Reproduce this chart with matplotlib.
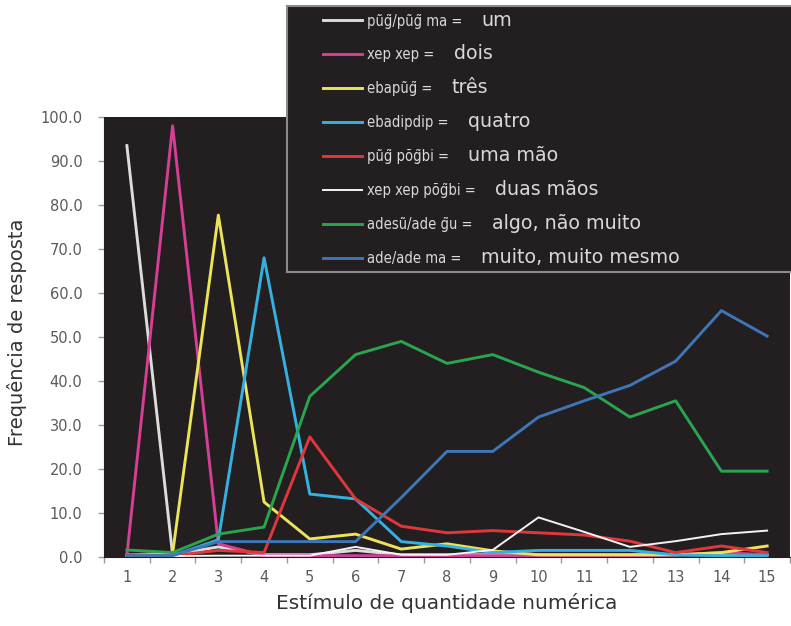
import matplotlib
matplotlib.use("Agg")
import matplotlib.pyplot as plt
import numpy as np
from matplotlib.patches import Rectangle
from matplotlib.ticker import FormatStrFormatter
from matplotlib.font_manager import FontProperties

# ---------------- data ----------------
stimuli = list(range(1, 16))

native_words = ["pũg̃/pũg̃ ma =", "xep xep =", "ebapũg̃ =", "ebadipdip =",
                "pũg̃ põg̃bi =", "xep xep põg̃bi =", "adesũ/ade g̃u =", "ade/ade ma ="]
portuguese = ["um", "dois", "três", "quatro", "uma mão", "duas mãos",
              "algo, não muito", "muito, muito mesmo"]

um        = [93.5, 0.5, 2.3, 0.5, 0.5, 1.5, 0.5, 0.5, 0.5, 0.5, 0.5, 0.5, 0.5, 0.5, 0.5]
dois      = [0.3, 98.0, 3.0, 0.3, 0.3, 0.3, 0.3, 0.3, 0.3, 0.3, 0.3, 0.3, 0.5, 1.0, 0.5]
tres      = [0.5, 0.8, 77.7, 12.5, 4.1, 5.2, 1.8, 3.0, 1.4, 0.5, 0.5, 0.5, 0.5, 1.0, 2.5]
quatro    = [0.5, 0.3, 3.9, 68.0, 14.3, 13.2, 3.5, 2.5, 1.0, 1.5, 1.5, 1.5, 0.5, 0.3, 0.3]
uma_mao   = [0.5, 0.3, 1.5, 1.0, 27.3, 13.2, 7.0, 5.5, 6.0, 5.5, 5.0, 3.6, 1.0, 2.5, 1.0]
duas_maos = [0.2, 0.2, 0.3, 0.3, 0.3, 2.3, 0.5, 0.5, 1.6, 9.0, 5.7, 2.3, 3.6, 5.2, 6.0]
algo      = [1.6, 1.0, 5.2, 6.8, 36.5, 46.0, 49.0, 44.0, 46.0, 42.0, 38.5, 31.8, 35.5, 19.5, 19.5]
muito     = [0.3, 0.3, 3.5, 3.5, 3.5, 3.5, 13.5, 24.0, 24.0, 31.8, 35.5, 39.0, 44.5, 56.0, 50.2]

series = [um, dois, tres, quatro, uma_mao, duas_maos, algo, muito]
colors = ["#dcdcdc", "#d63f96", "#ece35a", "#35b1e0", "#e0373a", "#f4f4f4", "#2aa44f", "#3e76b8"]
widths = [2.1, 2.1, 2.1, 2.1, 2.1, 1.4, 2.1, 2.1]

yticks = [0, 10, 20, 30, 40, 50, 60, 70, 80, 90, 100]

DARK = "#231f20"
W, H = 791, 626

fig = plt.figure(figsize=(W / 100, H / 100), dpi=100)
fig.patch.set_facecolor("white")
ax = fig.add_axes([104 / W, (H - 557) / H, 686 / W, 440 / H])
ax.set_facecolor(DARK)

handles = []
for vals, c, lw in zip(series, colors, widths):
    ln, = ax.plot(stimuli, vals, color=c, lw=lw, solid_joinstyle="round")
    handles.append(ln)

ax.set_xlim(0.5, 15.5)
ax.set_ylim(0, 100)
ax.set_xticks(stimuli)
ax.set_xticks(np.arange(0.5, 16, 1.0), minor=True)
ax.set_yticks(yticks)
ax.yaxis.set_major_formatter(FormatStrFormatter("%.1f"))
ax.tick_params(axis="x", which="major", length=0, pad=9, labelsize=10.5, labelcolor="#5a5a5a")
ax.tick_params(axis="x", which="minor", length=4, width=1, color="#9a9a9a", direction="out")
ax.tick_params(axis="y", which="major", length=4, width=1, color="#9a9a9a", pad=11.5,
               labelsize=10.5, labelcolor="#5a5a5a")
for s in ["top", "right"]:
    ax.spines[s].set_visible(False)
for s in ["left", "bottom"]:
    ax.spines[s].set_color(DARK)

ax.set_xlabel("Estímulo de quantidade numérica", fontsize=14.5, color="#333333", labelpad=6)
ax.set_ylabel("Frequência de resposta", fontsize=14, color="#333333")
ax.yaxis.set_label_coords(-0.112, 0.51)

# legend box
rect = Rectangle((287 / W, (H - 272) / H), (W - 287) / W + 0.02, (272 - 6) / H,
                 transform=fig.transFigure, facecolor=DARK, edgecolor="#8c8c8c",
                 lw=1.5, zorder=3)
fig.add_artist(rect)

native_font = FontProperties(family="DejaVu Sans", stretch="condensed", size=10.5)
leg = fig.legend(handles, native_words, loc="upper left",
                 bbox_to_anchor=(323 / W, (H - 13.5) / H), bbox_transform=fig.transFigure,
                 frameon=False, borderpad=0, borderaxespad=0, prop=native_font,
                 labelcolor="#d9d9d9", handlelength=2.7, handletextpad=0.35,
                 labelspacing=1.3)
leg.set_zorder(4)

fig.canvas.draw()
renderer = fig.canvas.get_renderer()
inv = fig.transFigure.inverted()
for t, word in zip(leg.get_texts(), portuguese):
    bb = t.get_window_extent(renderer)
    base = t.get_transform().transform((0, 0))
    fx, fy = inv.transform((bb.x1 + 19, base[1]))
    fig.text(fx, fy, word, fontsize=13.7, color="#d9d9d9", ha="left", va="baseline", zorder=5)

fig.savefig("out.png", dpi=100, facecolor="white")
